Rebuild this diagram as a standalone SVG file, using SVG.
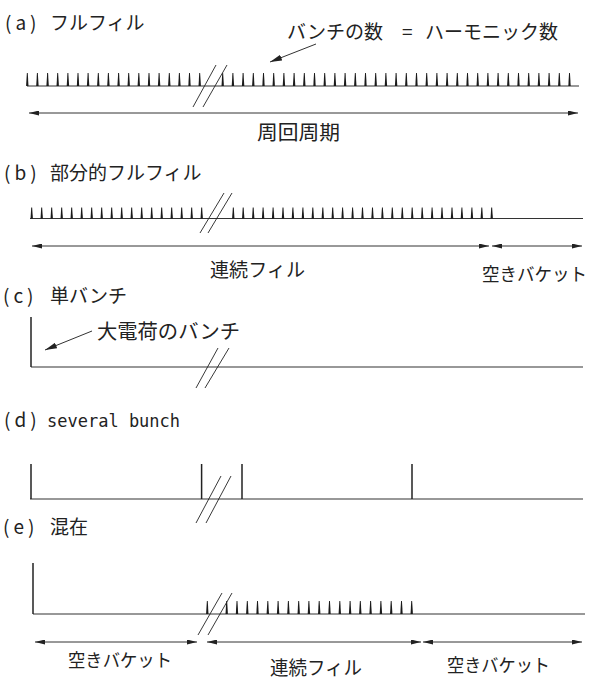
<svg xmlns="http://www.w3.org/2000/svg" xmlns:xlink="http://www.w3.org/1999/xlink" width="593" height="679" viewBox="0 0 593 679">
<style>
.t{font-family:"Noto Sans CJK JP","Noto Sans",sans-serif;font-size:19px;fill:#222}
.p{letter-spacing:4px}
.m{font-family:"DejaVu Sans Mono","Liberation Mono",monospace;font-size:17px;fill:#222}
.base{stroke:#333;stroke-width:1.2;fill:none}
.arr{stroke:#333;stroke-width:1;fill:none;marker-start:url(#ah);marker-end:url(#ah)}
.ann{stroke:#333;stroke-width:1;fill:none;marker-end:url(#ah2)}
.brk{stroke:#222;stroke-width:0.9;fill:none}
.sp{stroke:#222;stroke-width:1.5;fill:none}
.tk{fill:#1a1a1a}
</style>
<defs>
<marker id="ah" viewBox="0 0 10 5" refX="10" refY="2.5" markerWidth="10" markerHeight="5" markerUnits="userSpaceOnUse" orient="auto-start-reverse"><path d="M0,0 L10,2.5 L0,5 Z" fill="#222"/></marker>
<marker id="ah2" viewBox="0 0 12 6" refX="12" refY="3" markerWidth="12" markerHeight="6" markerUnits="userSpaceOnUse" orient="auto"><path d="M0,0 L12,3 L0,6 Z" fill="#222"/></marker>
<path id="tA" class="tk" d="M-1.2,0 L-0.45,-13 L0.45,-13 L1.2,0 Z"/>
<path id="tB" class="tk" d="M-1.2,0 L-0.45,-11 L0.45,-11 L1.2,0 Z"/>
</defs>

<!-- (a) full fill -->
<g id="row-a">
<text class="t" x="5" y="30"><tspan class="p">(a)</tspan><tspan x="50">フルフィル</tspan></text>
<line class="base" x1="27" y1="86" x2="579" y2="86"/>
<g id="ticks-a">
<use href="#tA" x="27.3" y="86"/><use href="#tA" x="37.4" y="86"/><use href="#tA" x="47.6" y="86"/><use href="#tA" x="57.7" y="86"/><use href="#tA" x="67.9" y="86"/><use href="#tA" x="78.0" y="86"/><use href="#tA" x="88.1" y="86"/><use href="#tA" x="98.3" y="86"/><use href="#tA" x="108.4" y="86"/><use href="#tA" x="118.6" y="86"/><use href="#tA" x="128.7" y="86"/><use href="#tA" x="138.8" y="86"/><use href="#tA" x="149.0" y="86"/><use href="#tA" x="159.1" y="86"/><use href="#tA" x="169.3" y="86"/><use href="#tA" x="179.4" y="86"/><use href="#tA" x="189.5" y="86"/><use href="#tA" x="199.7" y="86"/>
<use href="#tA" x="222.7" y="86"/><use href="#tA" x="232.9" y="86"/><use href="#tA" x="243.1" y="86"/><use href="#tA" x="253.3" y="86"/><use href="#tA" x="263.5" y="86"/><use href="#tA" x="273.7" y="86"/><use href="#tA" x="283.9" y="86"/><use href="#tA" x="294.1" y="86"/><use href="#tA" x="304.3" y="86"/><use href="#tA" x="314.5" y="86"/><use href="#tA" x="324.7" y="86"/><use href="#tA" x="334.9" y="86"/><use href="#tA" x="345.1" y="86"/><use href="#tA" x="355.3" y="86"/><use href="#tA" x="365.5" y="86"/><use href="#tA" x="375.7" y="86"/><use href="#tA" x="385.9" y="86"/><use href="#tA" x="396.1" y="86"/><use href="#tA" x="406.3" y="86"/><use href="#tA" x="416.5" y="86"/><use href="#tA" x="426.7" y="86"/><use href="#tA" x="436.9" y="86"/><use href="#tA" x="447.1" y="86"/><use href="#tA" x="457.3" y="86"/><use href="#tA" x="467.5" y="86"/><use href="#tA" x="477.7" y="86"/><use href="#tA" x="487.9" y="86"/><use href="#tA" x="498.1" y="86"/><use href="#tA" x="508.3" y="86"/><use href="#tA" x="518.5" y="86"/><use href="#tA" x="528.7" y="86"/><use href="#tA" x="538.9" y="86"/><use href="#tA" x="549.1" y="86"/><use href="#tA" x="559.3" y="86"/><use href="#tA" x="569.5" y="86"/>
</g>
<line class="brk" x1="193" y1="107" x2="216" y2="65"/>
<line class="brk" x1="203" y1="107" x2="227" y2="65"/>
<text class="t" x="287" y="39" font-size="20">バンチの数 <tspan x="402">=</tspan> <tspan x="425">ハーモニック数</tspan></text>
<text class="t" x="257" y="140" style="font-size:20px" textLength="83" lengthAdjust="spacingAndGlyphs">周回周期</text>
</g>

<!-- (b) partial fill -->
<g id="row-b">
<text class="t" x="4" y="180"><tspan class="p">(b)</tspan><tspan x="50">部分的フルフィル</tspan></text>
<line class="base" x1="30" y1="218.5" x2="583" y2="218.5"/>
<g id="ticks-b">
<use href="#tB" x="31.7" y="218.5"/><use href="#tB" x="41.7" y="218.5"/><use href="#tB" x="51.7" y="218.5"/><use href="#tB" x="61.7" y="218.5"/><use href="#tB" x="71.7" y="218.5"/><use href="#tB" x="81.7" y="218.5"/><use href="#tB" x="91.7" y="218.5"/><use href="#tB" x="101.7" y="218.5"/><use href="#tB" x="111.7" y="218.5"/><use href="#tB" x="121.7" y="218.5"/><use href="#tB" x="131.7" y="218.5"/><use href="#tB" x="141.7" y="218.5"/><use href="#tB" x="151.7" y="218.5"/><use href="#tB" x="161.7" y="218.5"/><use href="#tB" x="171.7" y="218.5"/><use href="#tB" x="181.7" y="218.5"/><use href="#tB" x="191.7" y="218.5"/><use href="#tB" x="201.7" y="218.5"/>
<use href="#tB" x="233.3" y="218.5"/><use href="#tB" x="243.2" y="218.5"/><use href="#tB" x="253.2" y="218.5"/><use href="#tB" x="263.1" y="218.5"/><use href="#tB" x="273.1" y="218.5"/><use href="#tB" x="283.0" y="218.5"/><use href="#tB" x="292.9" y="218.5"/><use href="#tB" x="302.9" y="218.5"/><use href="#tB" x="312.8" y="218.5"/><use href="#tB" x="322.8" y="218.5"/><use href="#tB" x="332.7" y="218.5"/><use href="#tB" x="342.6" y="218.5"/><use href="#tB" x="352.6" y="218.5"/><use href="#tB" x="362.5" y="218.5"/><use href="#tB" x="372.5" y="218.5"/><use href="#tB" x="382.4" y="218.5"/><use href="#tB" x="392.3" y="218.5"/><use href="#tB" x="402.3" y="218.5"/><use href="#tB" x="412.2" y="218.5"/><use href="#tB" x="422.2" y="218.5"/><use href="#tB" x="432.1" y="218.5"/><use href="#tB" x="442.0" y="218.5"/><use href="#tB" x="452.0" y="218.5"/><use href="#tB" x="461.9" y="218.5"/><use href="#tB" x="471.9" y="218.5"/><use href="#tB" x="481.8" y="218.5"/><use href="#tB" x="491.7" y="218.5"/>
</g>
<line class="brk" x1="200" y1="233" x2="224" y2="193"/>
<line class="brk" x1="208" y1="233" x2="232" y2="193"/>
<text class="t" x="210" y="277" textLength="95" lengthAdjust="spacingAndGlyphs">連続フィル</text>
<text class="t" x="482" y="281" style="font-size:18px" textLength="105" lengthAdjust="spacingAndGlyphs">空きバケット</text>
</g>

<!-- (c) single bunch -->
<g id="row-c">
<text class="t" x="3" y="303"><tspan class="p">(c)</tspan><tspan x="50">単バンチ</tspan></text>
<line class="base" x1="31" y1="367" x2="583" y2="367"/>
<line class="sp" x1="31" y1="317" x2="31" y2="367"/>
<line class="brk" x1="196" y1="388" x2="218" y2="348"/>
<line class="brk" x1="205" y1="388" x2="229" y2="348"/>
<text class="t" x="97" y="339" style="font-size:20px" textLength="143" lengthAdjust="spacingAndGlyphs">大電荷のバンチ</text>
</g>

<!-- (d) several bunch -->
<g id="row-d">
<text class="t" x="4" y="427"><tspan class="p">(d)</tspan><tspan class="m" x="47">several bunch</tspan></text>
<line class="base" x1="30" y1="499" x2="583" y2="499"/>
<line class="sp" x1="31" y1="464" x2="31" y2="499"/>
<line class="sp" x1="201.6" y1="464" x2="201.6" y2="499"/>
<line class="sp" x1="242" y1="464" x2="242" y2="499"/>
<line class="sp" x1="412" y1="464" x2="412" y2="499"/>
<line class="brk" x1="196" y1="523" x2="221" y2="476"/>
<line class="brk" x1="206" y1="523" x2="231" y2="476"/>
</g>

<!-- (e) mixed -->
<g id="row-e">
<text class="t" x="3" y="534"><tspan class="p">(e)</tspan><tspan x="50">混在</tspan></text>
<line class="base" x1="33" y1="614" x2="585" y2="614"/>
<line class="sp" x1="33" y1="563" x2="33" y2="614"/>
<g id="ticks-e">
<use href="#tA" x="207.3" y="614"/>
<use href="#tA" x="226.7" y="614"/><use href="#tA" x="237.0" y="614"/><use href="#tA" x="247.3" y="614"/><use href="#tA" x="257.5" y="614"/><use href="#tA" x="267.8" y="614"/><use href="#tA" x="278.1" y="614"/><use href="#tA" x="288.4" y="614"/><use href="#tA" x="298.7" y="614"/><use href="#tA" x="308.9" y="614"/><use href="#tA" x="319.2" y="614"/><use href="#tA" x="329.5" y="614"/><use href="#tA" x="339.8" y="614"/><use href="#tA" x="350.1" y="614"/><use href="#tA" x="360.3" y="614"/><use href="#tA" x="370.6" y="614"/><use href="#tA" x="380.9" y="614"/><use href="#tA" x="391.2" y="614"/><use href="#tA" x="401.5" y="614"/><use href="#tA" x="411.7" y="614"/>
</g>
<line class="brk" x1="198" y1="635" x2="222" y2="593"/>
<line class="brk" x1="208" y1="635" x2="232" y2="593"/>
<text class="t" x="68" y="667" style="font-size:18px" textLength="104" lengthAdjust="spacingAndGlyphs">空きバケット</text>
<text class="t" x="270" y="675" textLength="92" lengthAdjust="spacingAndGlyphs">連続フィル</text>
<text class="t" x="447" y="672" style="font-size:18px" textLength="103" lengthAdjust="spacingAndGlyphs">空きバケット</text>
</g>

<!-- connectors (arrows) -->
<g id="connectors">
<line class="arr" x1="29" y1="113" x2="578" y2="113"/>
<line class="ann" x1="316" y1="44" x2="270" y2="62"/>
<line class="arr" x1="32" y1="246" x2="489" y2="246"/>
<line class="arr" x1="492" y1="246" x2="582" y2="246"/>
<line class="ann" x1="92" y1="331" x2="45" y2="350"/>
<line class="arr" x1="35" y1="642" x2="197" y2="642"/>
<line class="arr" x1="207" y1="642" x2="421" y2="642"/>
<line class="arr" x1="423" y1="642" x2="582" y2="642"/>
</g>
</svg>
